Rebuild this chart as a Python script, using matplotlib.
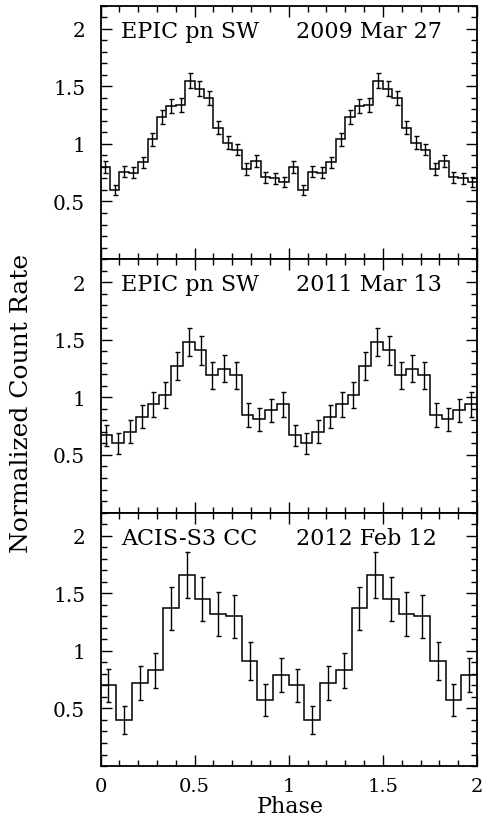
import numpy as np
import matplotlib.pyplot as plt
from matplotlib.ticker import MultipleLocator, FixedLocator

# Light curves folded on the period (one cycle), drawn twice over phase 0-2

# 2009 Mar 27, EPIC pn SW, 20 bins
rate_2009 = [0.80, 0.60, 0.76, 0.75, 0.84, 1.04, 1.23, 1.33, 1.34, 1.55,
             1.48, 1.40, 1.14, 1.01, 0.95, 0.78, 0.85, 0.71, 0.70, 0.67]
err_2009 = [0.05, 0.045, 0.05, 0.05, 0.05, 0.055, 0.06, 0.06, 0.06, 0.065,
            0.065, 0.06, 0.055, 0.055, 0.05, 0.05, 0.05, 0.05, 0.045, 0.045]

# 2011 Mar 13, EPIC pn SW, 16 bins
rate_2011 = [0.67, 0.60, 0.70, 0.83, 0.94, 1.02, 1.27, 1.48,
             1.41, 1.19, 1.25, 1.19, 0.85, 0.81, 0.89, 0.94]
err_2011 = [0.094, 0.093, 0.10, 0.10, 0.11, 0.11, 0.12, 0.125,
            0.125, 0.115, 0.115, 0.115, 0.105, 0.10, 0.10, 0.11]

# 2012 Feb 12, ACIS-S3 CC, 12 bins
rate_2012 = [0.70, 0.40, 0.72, 0.83, 1.37, 1.66, 1.45, 1.32, 1.30, 0.91, 0.57, 0.79]
err_2012 = [0.146, 0.125, 0.15, 0.155, 0.185, 0.20, 0.19, 0.19, 0.185, 0.165, 0.14, 0.15]

panels = [
    ("EPIC pn SW", "2009 Mar 27", rate_2009, err_2009),
    ("EPIC pn SW", "2011 Mar 13", rate_2011, err_2011),
    ("ACIS-S3 CC", "2012 Feb 12", rate_2012, err_2012),
]

plt.rcParams['font.family'] = 'DejaVu Serif'

fig = plt.figure(figsize=(4.86, 8.2), dpi=100)

left, width = 0.2068, 0.7747
h = 0.3091
bottoms = [0.0646 + 2 * h, 0.0646 + h, 0.0646]

for i, (inst, date, rate, err) in enumerate(panels):
    ax = fig.add_axes([left, bottoms[i], width, h])
    n = len(rate)
    y = np.concatenate([rate, rate])
    e = np.concatenate([err, err])
    edges = np.linspace(0, 2, 2 * n + 1)
    centers = 0.5 * (edges[:-1] + edges[1:])

    ax.stairs(y, edges, color='black', lw=1.1, baseline=None)
    ax.errorbar(centers, y, yerr=e, fmt='none', ecolor='black',
                elinewidth=1.0, capsize=1.8, capthick=1.0)

    ax.set_xlim(0, 2)
    ax.set_ylim(0, 2.2)
    ax.yaxis.set_major_locator(FixedLocator([0.5, 1, 1.5, 2]))
    ax.set_yticklabels(['0.5', '1', '1.5', '2'])
    ax.yaxis.set_minor_locator(MultipleLocator(0.1))
    ax.xaxis.set_major_locator(FixedLocator([0, 0.5, 1, 1.5, 2]))
    ax.xaxis.set_minor_locator(MultipleLocator(0.1))
    ax.tick_params(which='both', direction='in', top=True, right=True,
                   width=1.0, labelsize=14.5)
    ax.tick_params(which='major', length=8)
    ax.tick_params(which='minor', length=4.3)
    ax.tick_params(axis='y', pad=11)
    ax.tick_params(axis='x', pad=8, labelsize=14)
    for s in ax.spines.values():
        s.set_linewidth(1.3)

    if i < 2:
        ax.tick_params(labelbottom=False)
    else:
        ax.set_xticklabels(['0', '0.5', '1', '1.5', '2'])

    ax.text(0.109, 1.93, inst, fontsize=16, va='baseline', ha='left')
    ax.text(1.039, 1.93, date, fontsize=16, va='baseline', ha='left')

fig.text(0.597, 0.0085, 'Phase', fontsize=16, ha='center', va='baseline')
fig.text(0.045, 0.508, 'Normalized Count Rate', rotation=90, fontsize=18,
         ha='center', va='center')

fig.savefig('out.png', dpi=100)
